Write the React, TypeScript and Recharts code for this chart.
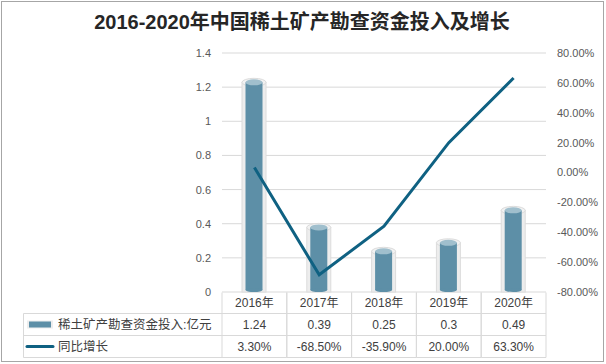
import React from 'react';
import { ComposedChart, Bar, Line, XAxis, YAxis, CartesianGrid, Customized } from 'recharts';

const years = ['2016年', '2017年', '2018年', '2019年', '2020年'];
const investment = [1.24, 0.39, 0.25, 0.3, 0.49];
const growth = [3.3, -68.5, -35.9, 20.0, 63.3];
const investmentLabels = ['1.24', '0.39', '0.25', '0.3', '0.49'];
const growthLabels = ['3.30%', '-68.50%', '-35.90%', '20.00%', '63.30%'];
const leftTicks = [0, 0.2, 0.4, 0.6, 0.8, 1, 1.2, 1.4];
const rightTicks = [-80, -60, -40, -20, 0, 20, 40, 60, 80];
const seriesNames = ['稀土矿产勘查资金投入:亿元', '同比增长'];
const title = '2016-2020年中国稀土矿产勘查资金投入及增长';

const data = years.map((year, i) => ({
  year,
  investment: investment[i],
  growth: growth[i],
}));

const FONT = "'Liberation Sans', 'Noto Sans CJK SC', sans-serif";
const BORDER = '#d9d9d9';
const TEXT = '#404040';
const AXIS_TEXT = '#595959';
const BAR_COLOR = '#5d8fa7';
const BAR_TOP = '#a0bfcd';
const LINE_COLOR = '#0f6182';

const W = 606;
const H = 364;
const ROW0 = 292.5;
const ROW1 = 313.5;
const ROW2 = 335.5;
const ROW3 = 357.5;
const TABLE_LEFT = 23.5;
const PLOT_LEFT = 222.5;

const TableTick = (props: any) => {
  const { x, payload } = props;
  const i = payload.index;
  const half = payload.offset || 32.4;
  const left = x - half;
  const w = half * 2;
  return (
    <g>
      <line x1={left} x2={left + w} y1={ROW1} y2={ROW1} stroke={BORDER} />
      <line x1={left} x2={left + w} y1={ROW2} y2={ROW2} stroke={BORDER} />
      <line x1={left} x2={left + w} y1={ROW3} y2={ROW3} stroke={BORDER} />
      <line x1={left} x2={left} y1={ROW0} y2={ROW3} stroke={BORDER} />
      <line x1={left + w} x2={left + w} y1={ROW0} y2={ROW3} stroke={BORDER} />
      <text x={x} y={(ROW0 + ROW1) / 2} dy="0.36em" textAnchor="middle" fontSize={12} fill={TEXT} fontFamily={FONT}>
        {years[i]}
      </text>
      <text x={x} y={(ROW1 + ROW2) / 2} dy="0.36em" textAnchor="middle" fontSize={12} fill={TEXT} fontFamily={FONT}>
        {investmentLabels[i]}
      </text>
      <text x={x} y={(ROW2 + ROW3) / 2} dy="0.36em" textAnchor="middle" fontSize={12} fill={TEXT} fontFamily={FONT}>
        {growthLabels[i]}
      </text>
    </g>
  );
};

const LegendColumn = () => (
  <g>
    <line x1={TABLE_LEFT} x2={PLOT_LEFT} y1={ROW1} y2={ROW1} stroke={BORDER} />
    <line x1={TABLE_LEFT} x2={PLOT_LEFT} y1={ROW2} y2={ROW2} stroke={BORDER} />
    <line x1={TABLE_LEFT} x2={PLOT_LEFT} y1={ROW3} y2={ROW3} stroke={BORDER} />
    <line x1={TABLE_LEFT} x2={TABLE_LEFT} y1={ROW1} y2={ROW3} stroke={BORDER} />
    <rect x={27} y={(ROW1 + ROW2) / 2 - 4} width={26} height={8} fill="#eeeeee" />
    <rect x={29} y={(ROW1 + ROW2) / 2 - 3} width={22} height={6} fill={BAR_COLOR} />
    <text x={58} y={(ROW1 + ROW2) / 2} dy="0.36em" fontSize={12.5} fill={TEXT} fontFamily={FONT}>
      {seriesNames[0]}
    </text>
    <line x1={27} x2={53} y1={(ROW2 + ROW3) / 2} y2={(ROW2 + ROW3) / 2} stroke={LINE_COLOR} strokeWidth={3} strokeLinecap="round" />
    <text x={58} y={(ROW2 + ROW3) / 2} dy="0.36em" fontSize={12.5} fill={TEXT} fontFamily={FONT}>
      {seriesNames[1]}
    </text>
    <rect x={1.5} y={1.5} width={602} height={360} fill="none" stroke="#a6a6a6" />
    <text x={302} y={22} dy="0.36em" textAnchor="middle" fontSize={20} fontWeight="bold" fill="#262626" fontFamily={FONT}>
      {title}
    </text>
  </g>
);

const Cylinder = (props: any) => {
  const { x, y, width, height } = props;
  if (width == null || height == null) return null;
  const cx = x + width / 2;
  const outerRx = width / 2;
  const innerRx = width / 2 - 3.5;
  const bottom = y + height;
  const top = y + 2;
  return (
    <g>
      <rect x={x} y={top} width={width} height={bottom - top} fill="#ededed" stroke="#dcdcdc" />
      <ellipse cx={cx} cy={top} rx={outerRx} ry={4} fill="#f2f2f2" stroke="#dcdcdc" />
      <rect x={cx - innerRx} y={top} width={innerRx * 2} height={bottom - top - 2} fill={BAR_COLOR} />
      <ellipse cx={cx} cy={bottom - 2} rx={innerRx} ry={2} fill={BAR_COLOR} />
      <ellipse cx={cx} cy={top} rx={innerRx} ry={3} fill={BAR_TOP} />
    </g>
  );
};

const LeftTick = (props: any) => {
  const { x, y, payload } = props;
  return (
    <text x={x} y={y} dy="0.36em" textAnchor="end" fontSize={11} fill={AXIS_TEXT} fontFamily={FONT}>
      {String(payload.value)}
    </text>
  );
};

const RightTick = (props: any) => {
  const { x, y, payload } = props;
  return (
    <text x={x} y={y} dy="0.36em" textAnchor="start" fontSize={11} fill={AXIS_TEXT} fontFamily={FONT}>
      {Number(payload.value).toFixed(2) + '%'}
    </text>
  );
};

export default function App() {
  return (
    <div style={{ position: 'absolute', left: 0, top: 0, width: W, height: H, background: '#fff' }}>
      <ComposedChart
        width={W}
        height={H}
        data={data}
        margin={{ top: 53, right: 0, left: 0, bottom: 0 }}
        barCategoryGap="30%"
      >
        <CartesianGrid yAxisId="left" vertical={false} stroke={BORDER} />
        <XAxis
          dataKey="year"
          height={72}
          axisLine={false}
          tickLine={false}
          interval={0}
          tick={<TableTick />}
        />
        <YAxis
          yAxisId="left"
          orientation="left"
          width={222}
          domain={[0, 1.4]}
          ticks={leftTicks}
          axisLine={false}
          tickLine={false}
          tickSize={0}
          tickMargin={11}
          tick={<LeftTick />}
        />
        <YAxis
          yAxisId="right"
          orientation="right"
          width={60}
          domain={[-80, 80]}
          ticks={rightTicks}
          axisLine={false}
          tickLine={false}
          tickSize={0}
          tickMargin={11}
          tick={<RightTick />}
        />
        <Bar yAxisId="left" dataKey="investment" barSize={24} shape={<Cylinder />} isAnimationActive={false} />
        <Line
          yAxisId="right"
          dataKey="growth"
          type="linear"
          stroke={LINE_COLOR}
          strokeWidth={3}
          dot={false}
          activeDot={false}
          isAnimationActive={false}
        />
        <Customized component={LegendColumn} />
      </ComposedChart>
    </div>
  );
}
